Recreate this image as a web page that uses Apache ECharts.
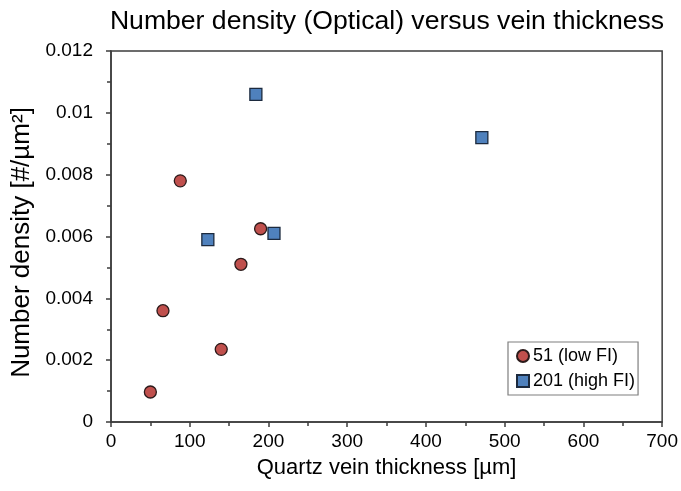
<!DOCTYPE html>
<html>
<head>
<meta charset="utf-8">
<script src="https://cdn.jsdelivr.net/npm/echarts@6/dist/echarts.min.js"></script>
<style>
  html, body { margin: 0; padding: 0; background: #fff; }
  #chart { width: 681px; height: 491px; }
</style>
</head>
<body>
<div id="chart"></div>
<script>
// Vein thickness [µm] and number density [#/µm²] per sample group
const lowFiThickness = [50, 66, 88, 140, 165, 190];
const lowFiDensity   = [0.00097, 0.0036, 0.0078, 0.00235, 0.0051, 0.00625];
const highFiThickness = [123, 184, 207, 471];
const highFiDensity   = [0.0059, 0.0106, 0.0061, 0.0092];

const seriesNames = ['51 (low FI)', '201 (high FI)'];
const chartTitle = 'Number density (Optical) versus vein thickness';
const xAxisTitle = 'Quartz vein thickness [µm]';
const yAxisTitle = 'Number density [#/µm²]';

const FONT = '"Liberation Sans", Arial, sans-serif';
const AXIS_COLOR = '#3c3c3c';

const pairs = (xs, ys) => xs.map((x, i) => [x, ys[i]]);

const chart = echarts.init(document.getElementById('chart'), null, { renderer: 'canvas' });

chart.setOption({
  backgroundColor: '#ffffff',
  animation: false,
  textStyle: { fontFamily: FONT },
  title: {
    text: chartTitle,
    left: 382,
    top: 3,
    textAlign: 'center',
    textStyle: { fontFamily: FONT, fontSize: 26.6, fontWeight: 'normal', color: '#000' }
  },
  grid: {
    left: 111, right: 18, top: 51, bottom: 69,
    show: true, borderColor: AXIS_COLOR, borderWidth: 1.5, backgroundColor: 'transparent'
  },
  legend: {
    orient: 'vertical',
    left: 508, top: 342,
    padding: [5, 3, 5, 8],
    itemGap: 7,
    itemWidth: 12, itemHeight: 12,
    backgroundColor: '#fff',
    borderColor: '#7f7f7f', borderWidth: 1.2,
    textStyle: { fontFamily: FONT, fontSize: 18, color: '#000', padding: [0, 0, 0, -1] },
    data: seriesNames
  },
  xAxis: {
    type: 'value',
    min: 0, max: 700, interval: 100,
    name: xAxisTitle,
    nameLocation: 'middle',
    nameGap: 35,
    nameTextStyle: { fontFamily: FONT, fontSize: 22, color: '#000' },
    axisLine: { show: true, lineStyle: { color: AXIS_COLOR, width: 1.5 } },
    axisTick: { show: true, length: 5, lineStyle: { color: AXIS_COLOR, width: 1.5 } },
    minorTick: { show: true, splitNumber: 2, length: 4, lineStyle: { color: AXIS_COLOR, width: 1.5 } },
    splitLine: { show: false },
    axisLabel: { fontFamily: FONT, fontSize: 19, color: '#000', margin: 10 }
  },
  yAxis: {
    type: 'value',
    min: 0, max: 0.012, interval: 0.002,
    name: yAxisTitle,
    nameLocation: 'middle',
    nameGap: 69,
    nameTextStyle: { fontFamily: FONT, fontSize: 26, color: '#000', padding: [0, 12, 0, 0] },
    axisLine: { show: true, lineStyle: { color: AXIS_COLOR, width: 1.5 } },
    axisTick: { show: true, length: 5, lineStyle: { color: AXIS_COLOR, width: 1.5 } },
    minorTick: { show: true, splitNumber: 2, length: 4, lineStyle: { color: AXIS_COLOR, width: 1.5 } },
    splitLine: { show: false },
    axisLabel: {
      fontFamily: FONT, fontSize: 19, color: '#000', margin: 18,
      formatter: v => String(parseFloat(v.toFixed(4)))
    }
  },
  series: [
    {
      name: seriesNames[0],
      type: 'scatter',
      symbol: 'circle',
      symbolSize: 12,
      itemStyle: { color: '#c0504d', borderColor: '#2b1a1a', borderWidth: 1.3, opacity: 1 },
      data: pairs(lowFiThickness, lowFiDensity)
    },
    {
      name: seriesNames[1],
      type: 'scatter',
      symbol: 'rect',
      symbolSize: 12,
      itemStyle: { color: '#4f81bd', borderColor: '#1c2a3e', borderWidth: 1.3, opacity: 1 },
      data: pairs(highFiThickness, highFiDensity)
    }
  ]
});
</script>
</body>
</html>
